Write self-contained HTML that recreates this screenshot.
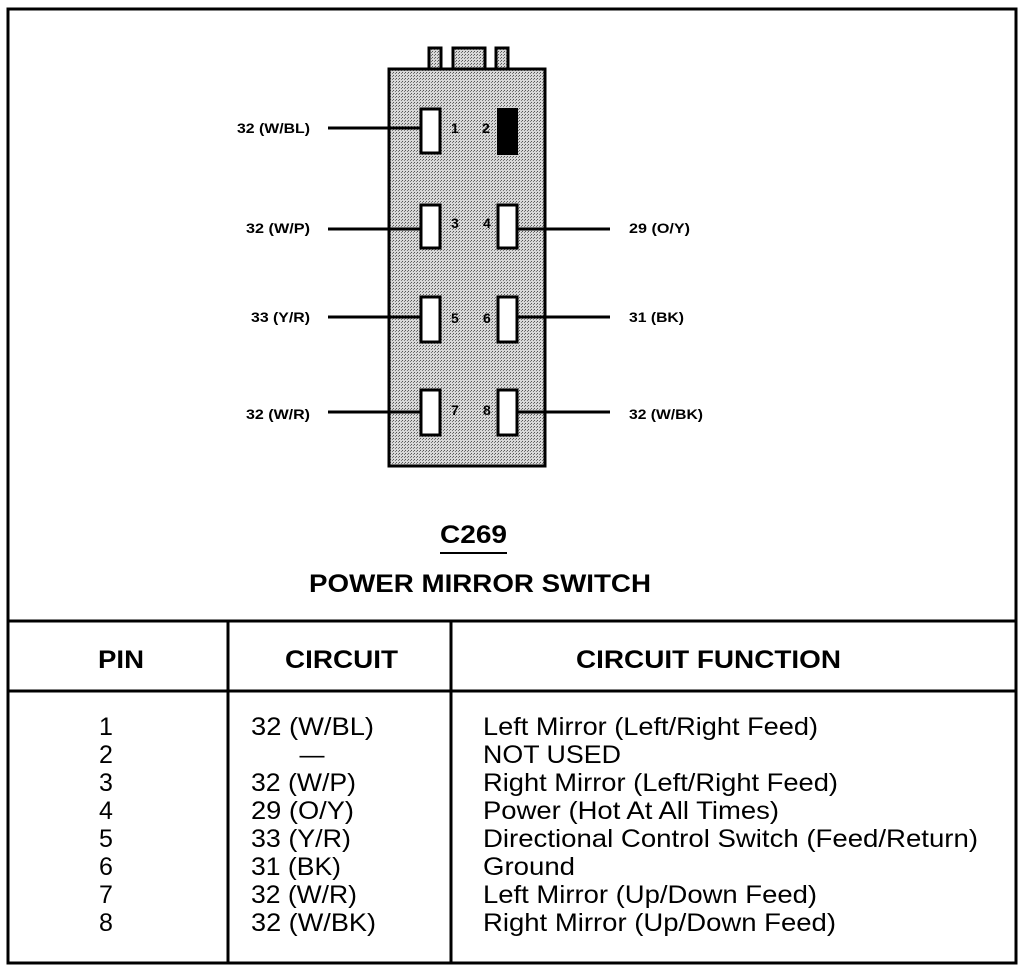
<!DOCTYPE html>
<html><head><style>
html,body{margin:0;padding:0;background:#fff;}
svg{display:block;}
text{font-family:"Liberation Sans",Arial,sans-serif;fill:#000;}
.s{font-size:14px;font-weight:bold;}
.t{font-size:25px;}
.b{font-size:25px;font-weight:bold;}
</style></head><body>
<svg width="1024" height="972" viewBox="0 0 1024 972" xmlns="http://www.w3.org/2000/svg">
<defs>
<pattern id="dot" width="3" height="3" patternUnits="userSpaceOnUse">
<rect width="3" height="3" fill="#d8d8d8"/>
<rect x="0" y="0" width="1" height="1" fill="#555"/>
<rect x="2" y="1" width="1" height="1" fill="#777"/>
</pattern>
</defs>
<rect x="8" y="9" width="1008" height="954" fill="none" stroke="#000" stroke-width="3"/>
<rect x="429" y="48" width="12" height="22" fill="url(#dot)" stroke="#000" stroke-width="3"/>
<rect x="453" y="48" width="32" height="22" fill="url(#dot)" stroke="#000" stroke-width="3"/>
<rect x="496" y="48" width="12" height="22" fill="url(#dot)" stroke="#000" stroke-width="3"/>
<rect x="389" y="69" width="156" height="397" fill="url(#dot)" stroke="#000" stroke-width="3"/>
<g stroke="#000" stroke-width="3">
<line x1="328" y1="128" x2="421" y2="128"/>
<line x1="328" y1="229" x2="421" y2="229"/>
<line x1="328" y1="317" x2="421" y2="317"/>
<line x1="328" y1="412" x2="421" y2="412"/>
<line x1="517" y1="229" x2="610" y2="229"/>
<line x1="517" y1="317" x2="610" y2="317"/>
<line x1="517" y1="412" x2="610" y2="412"/>
</g>
<g fill="#fff" stroke="#000" stroke-width="3">
<rect x="421" y="109" width="19" height="44"/>
<rect x="421" y="205" width="19" height="43"/>
<rect x="421" y="297" width="19" height="45"/>
<rect x="421" y="390" width="19" height="45"/>
<rect x="498" y="205" width="19" height="43"/>
<rect x="498" y="297" width="19" height="45"/>
<rect x="498" y="390" width="19" height="45"/>
</g>
<rect x="497" y="108" width="21" height="47" fill="#000"/>
<text x="451" y="133" class="s">1</text><text x="482" y="133" class="s">2</text>
<text x="451" y="228" class="s">3</text><text x="483" y="228" class="s">4</text>
<text x="451" y="323" class="s">5</text><text x="483" y="323" class="s">6</text>
<text x="451" y="415" class="s">7</text><text x="483" y="415" class="s">8</text>
<text x="237" y="133" class="s" textLength="73" lengthAdjust="spacingAndGlyphs">32 (W/BL)</text>
<text x="246" y="233" class="s" textLength="64" lengthAdjust="spacingAndGlyphs">32 (W/P)</text>
<text x="251" y="322" class="s" textLength="59" lengthAdjust="spacingAndGlyphs">33 (Y/R)</text>
<text x="246" y="419" class="s" textLength="64" lengthAdjust="spacingAndGlyphs">32 (W/R)</text>
<text x="629" y="233" class="s" textLength="61" lengthAdjust="spacingAndGlyphs">29 (O/Y)</text>
<text x="629" y="322" class="s" textLength="55" lengthAdjust="spacingAndGlyphs">31 (BK)</text>
<text x="629" y="419" class="s" textLength="74" lengthAdjust="spacingAndGlyphs">32 (W/BK)</text>
<text x="440" y="543" class="b" textLength="67" lengthAdjust="spacingAndGlyphs">C269</text>
<line x1="440" y1="553" x2="507" y2="553" stroke="#000" stroke-width="2"/>
<text x="309" y="592" class="b" textLength="342" lengthAdjust="spacingAndGlyphs">POWER MIRROR SWITCH</text>
<g stroke="#000" stroke-width="3">
<line x1="8" y1="621" x2="1016" y2="621"/>
<line x1="8" y1="691" x2="1016" y2="691"/>
<line x1="228" y1="621" x2="228" y2="963"/>
<line x1="451" y1="621" x2="451" y2="963"/>
</g>
<text x="98" y="668" class="b" textLength="46" lengthAdjust="spacingAndGlyphs">PIN</text>
<text x="285" y="668" class="b" textLength="113" lengthAdjust="spacingAndGlyphs">CIRCUIT</text>
<text x="576" y="668" class="b" textLength="265" lengthAdjust="spacingAndGlyphs">CIRCUIT FUNCTION</text>
<text x="106" y="735" text-anchor="middle" class="t">1</text>
<text x="106" y="763" text-anchor="middle" class="t">2</text>
<text x="106" y="791" text-anchor="middle" class="t">3</text>
<text x="106" y="819" text-anchor="middle" class="t">4</text>
<text x="106" y="847" text-anchor="middle" class="t">5</text>
<text x="106" y="875" text-anchor="middle" class="t">6</text>
<text x="106" y="903" text-anchor="middle" class="t">7</text>
<text x="106" y="931" text-anchor="middle" class="t">8</text>
<text x="251" y="735" class="t" textLength="123" lengthAdjust="spacingAndGlyphs">32 (W/BL)</text>
<text x="312" y="763" text-anchor="middle" class="t">—</text>
<text x="251" y="791" class="t" textLength="105" lengthAdjust="spacingAndGlyphs">32 (W/P)</text>
<text x="251" y="819" class="t" textLength="103" lengthAdjust="spacingAndGlyphs">29 (O/Y)</text>
<text x="251" y="847" class="t" textLength="100" lengthAdjust="spacingAndGlyphs">33 (Y/R)</text>
<text x="251" y="875" class="t" textLength="90" lengthAdjust="spacingAndGlyphs">31 (BK)</text>
<text x="251" y="903" class="t" textLength="106" lengthAdjust="spacingAndGlyphs">32 (W/R)</text>
<text x="251" y="931" class="t" textLength="125" lengthAdjust="spacingAndGlyphs">32 (W/BK)</text>
<text x="483" y="735" class="t" textLength="335" lengthAdjust="spacingAndGlyphs">Left Mirror (Left/Right Feed)</text>
<text x="483" y="763" class="t" textLength="138" lengthAdjust="spacingAndGlyphs">NOT USED</text>
<text x="483" y="791" class="t" textLength="355" lengthAdjust="spacingAndGlyphs">Right Mirror (Left/Right Feed)</text>
<text x="483" y="819" class="t" textLength="296" lengthAdjust="spacingAndGlyphs">Power (Hot At All Times)</text>
<text x="483" y="847" class="t" textLength="495" lengthAdjust="spacingAndGlyphs">Directional Control Switch (Feed/Return)</text>
<text x="483" y="875" class="t" textLength="92" lengthAdjust="spacingAndGlyphs">Ground</text>
<text x="483" y="903" class="t" textLength="334" lengthAdjust="spacingAndGlyphs">Left Mirror (Up/Down Feed)</text>
<text x="483" y="931" class="t" textLength="353" lengthAdjust="spacingAndGlyphs">Right Mirror (Up/Down Feed)</text>
</svg>
</body></html>
